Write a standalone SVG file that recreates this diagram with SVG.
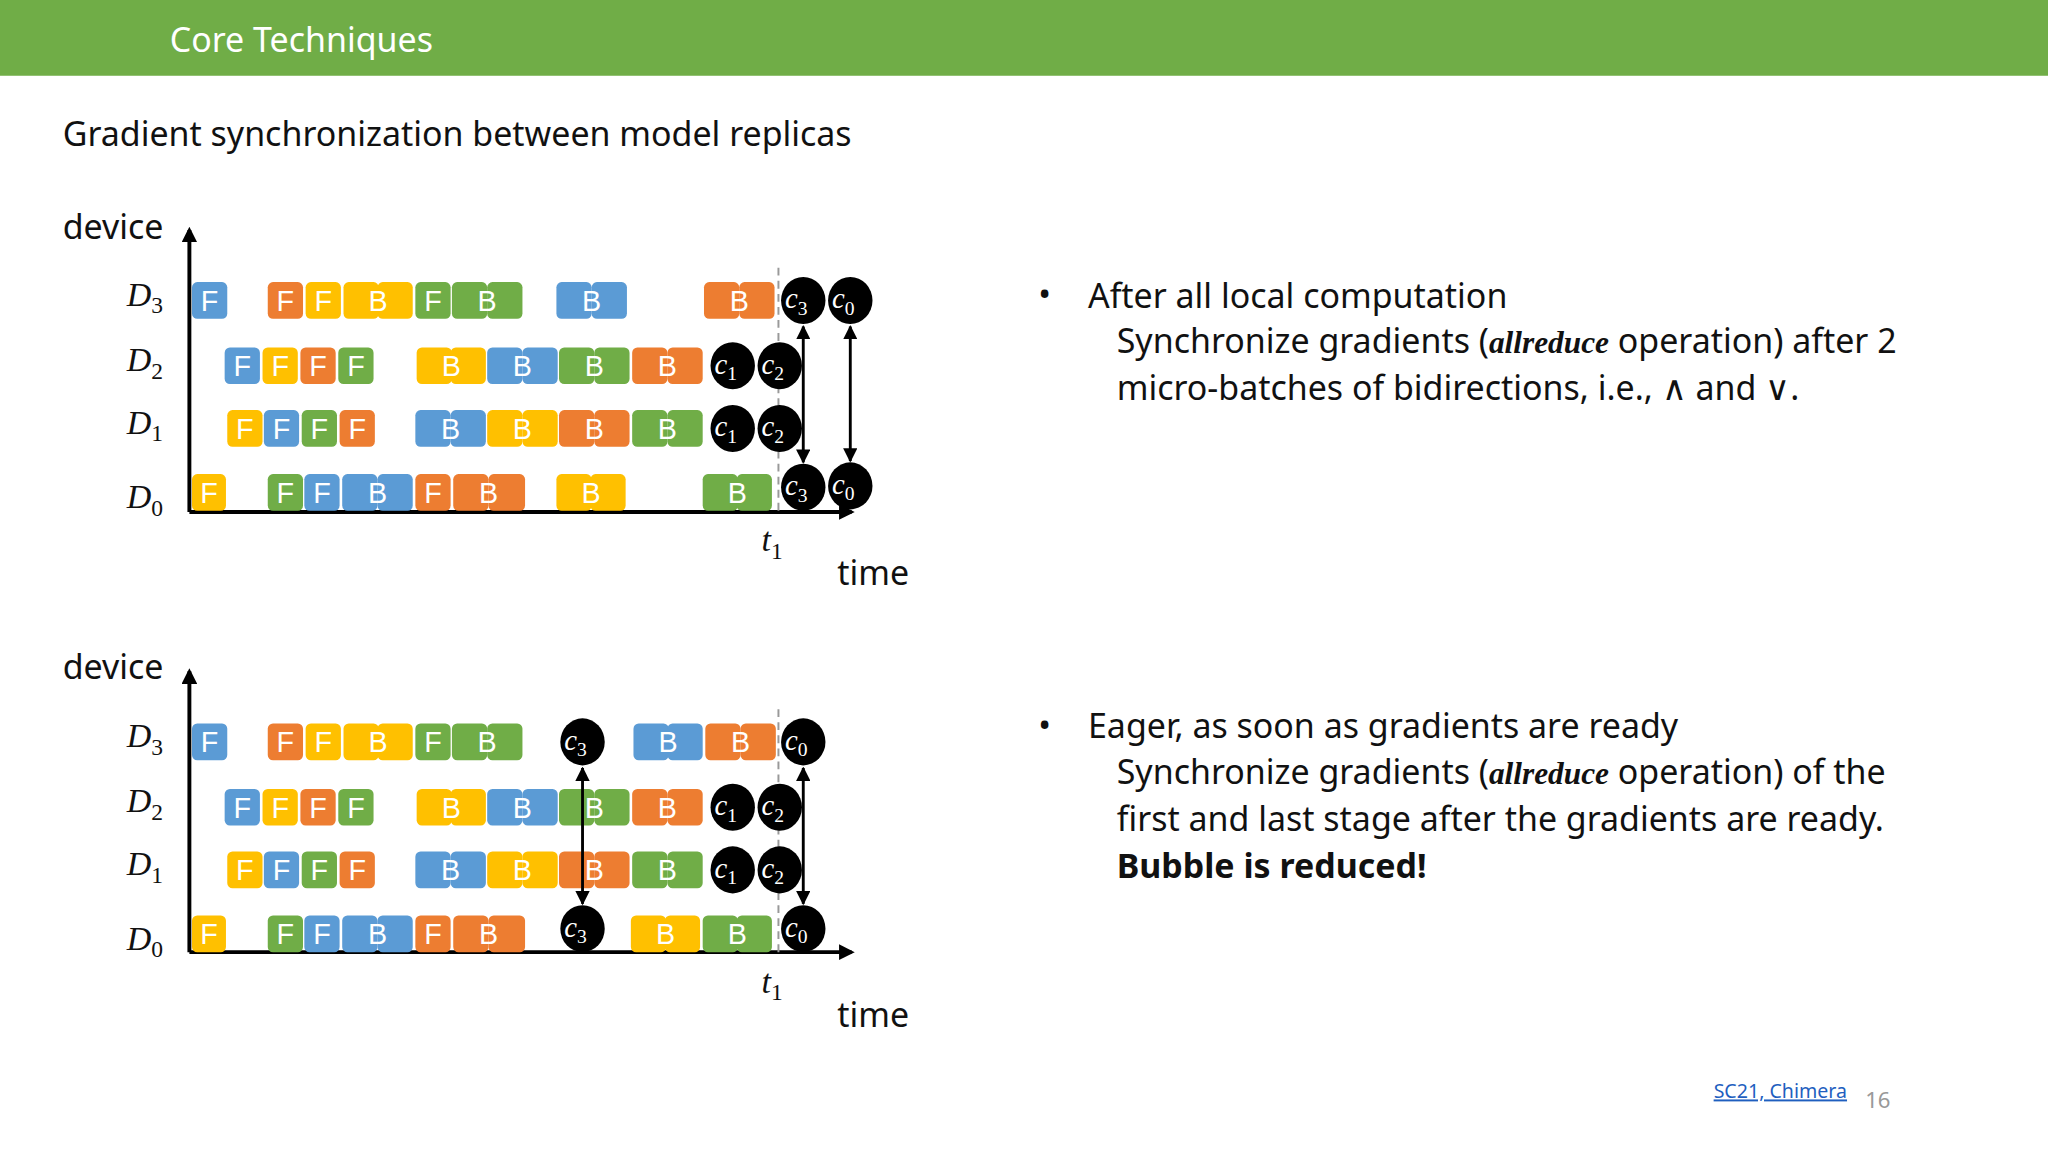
<svg xmlns="http://www.w3.org/2000/svg" width="2048" height="1152" viewBox="0 0 2048 1152">
<defs>
<style>
.s{font-family:"Noto Sans","Liberation Sans",sans-serif;fill:#111}
.blk{font-family:"Liberation Sans",sans-serif;font-size:22px;fill:#fff;text-anchor:middle}
.m{font-family:"Liberation Serif",serif;font-style:italic;fill:#111}
.cl{font-family:"Liberation Serif",serif;font-style:italic;fill:#fff;font-size:22px}
.b{fill:#5B9BD5}.o{fill:#ED7D31}.y{fill:#FFC000}.g{fill:#70AD47}
.ax{stroke:#000;stroke-width:3;fill:none}
.ar{stroke:#000;stroke-width:2.2;fill:none;marker-start:url(#h);marker-end:url(#h)}
.dash{stroke:#999;stroke-width:1.5;stroke-dasharray:6 4}
</style>
<marker id="a" viewBox="0 0 10 10" refX="8" refY="5" markerWidth="4" markerHeight="4" orient="auto"><path d="M0,0L10,5L0,10z" fill="#000"/></marker>
<marker id="h" viewBox="0 0 10 10" refX="9" refY="5" markerWidth="5" markerHeight="5" orient="auto-start-reverse"><path d="M0,0L10,5L0,10z" fill="#000"/></marker>
<g id="F"><rect x="0" y="-14" width="27" height="28" rx="4"/></g>
</defs>
<rect width="2048" height="1152" fill="#fff"/>
<g transform="scale(1.30612)">
<g id="header"><rect width="1568" height="58" fill="#70AD47"/>
<text x="130" y="40" class="s" font-size="26" style="fill:#fff">Core Techniques</text></g>
<text x="48" y="112" class="s" font-size="26">Gradient synchronization between model replicas</text>

<!-- chart 1 -->
<g id="chart1">
<g id="axes1">
<path class="ax" d="M145,392V176" marker-end="url(#a)"/>
<path class="ax" d="M145,392H652" marker-end="url(#a)"/>
<line class="dash" x1="596" y1="205" x2="596" y2="392"/>
<text x="48" y="183" class="s" font-size="26">device</text>
<text x="641" y="448" class="s" font-size="26">time</text>
<text x="583" y="422" class="m" font-size="26">t<tspan font-size="18" dy="6" font-style="normal">1</tspan></text>
<text x="97" y="234" class="m" font-size="26">D<tspan font-size="18" dy="6" font-style="normal">3</tspan></text>
<text x="97" y="284" class="m" font-size="26">D<tspan font-size="18" dy="6" font-style="normal">2</tspan></text>
<text x="97" y="332" class="m" font-size="26">D<tspan font-size="18" dy="6" font-style="normal">1</tspan></text>
<text x="97" y="389" class="m" font-size="26">D<tspan font-size="18" dy="6" font-style="normal">0</tspan></text>
</g>
<g id="r3a" transform="translate(0,230)">
<rect class="b" x="147" y="-14" width="27" height="28" rx="4"/><text class="blk" x="160.5" y="8">F</text>
<rect class="o" x="205" y="-14" width="27" height="28" rx="4"/><text class="blk" x="218.5" y="8">F</text>
<rect class="y" x="234" y="-14" width="27" height="28" rx="4"/><text class="blk" x="247.5" y="8">F</text>
<rect class="y" x="263" y="-14" width="27" height="28" rx="4"/><rect class="y" x="289" y="-14" width="27" height="28" rx="4"/><text class="blk" x="289.5" y="8">B</text>
<rect class="g" x="318" y="-14" width="27" height="28" rx="4"/><text class="blk" x="331.5" y="8">F</text>
<rect class="g" x="346" y="-14" width="27" height="28" rx="4"/><rect class="g" x="373" y="-14" width="27" height="28" rx="4"/><text class="blk" x="373" y="8">B</text>
<rect class="b" x="426" y="-14" width="27" height="28" rx="4"/><rect class="b" x="453" y="-14" width="27" height="28" rx="4"/><text class="blk" x="453" y="8">B</text>
<rect class="o" x="539" y="-14" width="27" height="28" rx="4"/><rect class="o" x="566" y="-14" width="27" height="28" rx="4"/><text class="blk" x="566" y="8">B</text>
<ellipse cx="615" cy="0" rx="17" ry="18"/><text class="cl" x="601" y="6">c<tspan font-size="15" dy="5" font-style="normal">3</tspan></text>
<ellipse cx="651" cy="0" rx="17" ry="18"/><text class="cl" x="637" y="6">c<tspan font-size="15" dy="5" font-style="normal">0</tspan></text>
</g>
<g id="r2a" transform="translate(0,280)">
<rect class="b" x="172" y="-14" width="27" height="28" rx="4"/><text class="blk" x="185.5" y="8">F</text>
<rect class="y" x="201" y="-14" width="27" height="28" rx="4"/><text class="blk" x="214.5" y="8">F</text>
<rect class="o" x="230" y="-14" width="27" height="28" rx="4"/><text class="blk" x="243.5" y="8">F</text>
<rect class="g" x="259" y="-14" width="27" height="28" rx="4"/><text class="blk" x="272.5" y="8">F</text>
<rect class="y" x="319" y="-14" width="27" height="28" rx="4"/><rect class="y" x="345" y="-14" width="27" height="28" rx="4"/><text class="blk" x="345.5" y="8">B</text>
<rect class="b" x="373" y="-14" width="27" height="28" rx="4"/><rect class="b" x="400" y="-14" width="27" height="28" rx="4"/><text class="blk" x="400" y="8">B</text>
<rect class="g" x="428" y="-14" width="27" height="28" rx="4"/><rect class="g" x="455" y="-14" width="27" height="28" rx="4"/><text class="blk" x="455" y="8">B</text>
<rect class="o" x="484" y="-14" width="27" height="28" rx="4"/><rect class="o" x="511" y="-14" width="27" height="28" rx="4"/><text class="blk" x="511" y="8">B</text>
<ellipse cx="561" cy="0" rx="17" ry="18"/><text class="cl" x="547" y="6">c<tspan font-size="15" dy="5" font-style="normal">1</tspan></text>
<ellipse cx="597" cy="0" rx="17" ry="18"/><text class="cl" x="583" y="6">c<tspan font-size="15" dy="5" font-style="normal">2</tspan></text>
</g>
<g id="r1a" transform="translate(0,328)">
<rect class="y" x="174" y="-14" width="27" height="28" rx="4"/><text class="blk" x="187.5" y="8">F</text>
<rect class="b" x="202" y="-14" width="27" height="28" rx="4"/><text class="blk" x="215.5" y="8">F</text>
<rect class="g" x="231" y="-14" width="27" height="28" rx="4"/><text class="blk" x="244.5" y="8">F</text>
<rect class="o" x="260" y="-14" width="27" height="28" rx="4"/><text class="blk" x="273.5" y="8">F</text>
<rect class="b" x="318" y="-14" width="27" height="28" rx="4"/><rect class="b" x="345" y="-14" width="27" height="28" rx="4"/><text class="blk" x="345" y="8">B</text>
<rect class="y" x="373" y="-14" width="27" height="28" rx="4"/><rect class="y" x="400" y="-14" width="27" height="28" rx="4"/><text class="blk" x="400" y="8">B</text>
<rect class="o" x="428" y="-14" width="27" height="28" rx="4"/><rect class="o" x="455" y="-14" width="27" height="28" rx="4"/><text class="blk" x="455" y="8">B</text>
<rect class="g" x="484" y="-14" width="27" height="28" rx="4"/><rect class="g" x="511" y="-14" width="27" height="28" rx="4"/><text class="blk" x="511" y="8">B</text>
<ellipse cx="561" cy="0" rx="17" ry="18"/><text class="cl" x="547" y="6">c<tspan font-size="15" dy="5" font-style="normal">1</tspan></text>
<ellipse cx="597" cy="0" rx="17" ry="18"/><text class="cl" x="583" y="6">c<tspan font-size="15" dy="5" font-style="normal">2</tspan></text>
</g>
<g id="r0a" transform="translate(0,377)">
<rect class="y" x="147" y="-14" width="26" height="28" rx="4"/><text class="blk" x="160" y="8">F</text>
<rect class="g" x="205" y="-14" width="27" height="28" rx="4"/><text class="blk" x="218.5" y="8">F</text>
<rect class="b" x="233" y="-14" width="27" height="28" rx="4"/><text class="blk" x="246.5" y="8">F</text>
<rect class="b" x="262" y="-14" width="27" height="28" rx="4"/><rect class="b" x="289" y="-14" width="27" height="28" rx="4"/><text class="blk" x="289" y="8">B</text>
<rect class="o" x="318" y="-14" width="27" height="28" rx="4"/><text class="blk" x="331.5" y="8">F</text>
<rect class="o" x="347" y="-14" width="27" height="28" rx="4"/><rect class="o" x="374" y="-14" width="28" height="28" rx="4"/><text class="blk" x="374" y="8">B</text>
<rect class="y" x="426" y="-14" width="27" height="28" rx="4"/><rect class="y" x="452" y="-14" width="27" height="28" rx="4"/><text class="blk" x="452.5" y="8">B</text>
<rect class="g" x="538" y="-14" width="27" height="28" rx="4"/><rect class="g" x="564" y="-14" width="27" height="28" rx="4"/><text class="blk" x="564.5" y="8">B</text>
<ellipse cx="615" cy="-4" rx="17" ry="18"/><text class="cl" x="601" y="2">c<tspan font-size="15" dy="5" font-style="normal">3</tspan></text>
<ellipse cx="651" cy="-5" rx="17" ry="18"/><text class="cl" x="637" y="1">c<tspan font-size="15" dy="5" font-style="normal">0</tspan></text>
</g>
<g id="conn1">
<line class="ar" x1="615" y1="250" x2="615" y2="354"/>
<line class="ar" x1="651" y1="250" x2="651" y2="353"/>
</g>
</g>

<!-- chart 2 -->
<g id="chart2">
<g id="axes2">
<path class="ax" d="M145,729V514" marker-end="url(#a)"/>
<path class="ax" d="M145,729H652" marker-end="url(#a)"/>
<line class="dash" x1="596" y1="543" x2="596" y2="729"/>
<text x="48" y="520" class="s" font-size="26">device</text>
<text x="641" y="786" class="s" font-size="26">time</text>
<text x="583" y="760" class="m" font-size="26">t<tspan font-size="18" dy="6" font-style="normal">1</tspan></text>
<text x="97" y="572" class="m" font-size="26">D<tspan font-size="18" dy="6" font-style="normal">3</tspan></text>
<text x="97" y="622" class="m" font-size="26">D<tspan font-size="18" dy="6" font-style="normal">2</tspan></text>
<text x="97" y="670" class="m" font-size="26">D<tspan font-size="18" dy="6" font-style="normal">1</tspan></text>
<text x="97" y="727" class="m" font-size="26">D<tspan font-size="18" dy="6" font-style="normal">0</tspan></text>
</g>
<g id="r3b" transform="translate(0,568)">
<rect class="b" x="147" y="-14" width="27" height="28" rx="4"/><text class="blk" x="160.5" y="8">F</text>
<rect class="o" x="205" y="-14" width="27" height="28" rx="4"/><text class="blk" x="218.5" y="8">F</text>
<rect class="y" x="234" y="-14" width="27" height="28" rx="4"/><text class="blk" x="247.5" y="8">F</text>
<rect class="y" x="263" y="-14" width="27" height="28" rx="4"/><rect class="y" x="289" y="-14" width="27" height="28" rx="4"/><text class="blk" x="289.5" y="8">B</text>
<rect class="g" x="318" y="-14" width="27" height="28" rx="4"/><text class="blk" x="331.5" y="8">F</text>
<rect class="g" x="346" y="-14" width="27" height="28" rx="4"/><rect class="g" x="373" y="-14" width="27" height="28" rx="4"/><text class="blk" x="373" y="8">B</text>
<ellipse cx="446" cy="0" rx="17" ry="18"/><text class="cl" x="432" y="6">c<tspan font-size="15" dy="5" font-style="normal">3</tspan></text>
<rect class="b" x="485" y="-14" width="27" height="28" rx="4"/><rect class="b" x="511" y="-14" width="27" height="28" rx="4"/><text class="blk" x="511.5" y="8">B</text>
<rect class="o" x="540" y="-14" width="27" height="28" rx="4"/><rect class="o" x="567" y="-14" width="27" height="28" rx="4"/><text class="blk" x="567" y="8">B</text>
<ellipse cx="615" cy="0" rx="17" ry="18"/><text class="cl" x="601" y="6">c<tspan font-size="15" dy="5" font-style="normal">0</tspan></text>
</g>
<g id="r2b" transform="translate(0,618)">
<rect class="b" x="172" y="-14" width="27" height="28" rx="4"/><text class="blk" x="185.5" y="8">F</text>
<rect class="y" x="201" y="-14" width="27" height="28" rx="4"/><text class="blk" x="214.5" y="8">F</text>
<rect class="o" x="230" y="-14" width="27" height="28" rx="4"/><text class="blk" x="243.5" y="8">F</text>
<rect class="g" x="259" y="-14" width="27" height="28" rx="4"/><text class="blk" x="272.5" y="8">F</text>
<rect class="y" x="319" y="-14" width="27" height="28" rx="4"/><rect class="y" x="345" y="-14" width="27" height="28" rx="4"/><text class="blk" x="345.5" y="8">B</text>
<rect class="b" x="373" y="-14" width="27" height="28" rx="4"/><rect class="b" x="400" y="-14" width="27" height="28" rx="4"/><text class="blk" x="400" y="8">B</text>
<rect class="g" x="428" y="-14" width="27" height="28" rx="4"/><rect class="g" x="455" y="-14" width="27" height="28" rx="4"/><text class="blk" x="455" y="8">B</text>
<rect class="o" x="484" y="-14" width="27" height="28" rx="4"/><rect class="o" x="511" y="-14" width="27" height="28" rx="4"/><text class="blk" x="511" y="8">B</text>
<ellipse cx="561" cy="0" rx="17" ry="18"/><text class="cl" x="547" y="6">c<tspan font-size="15" dy="5" font-style="normal">1</tspan></text>
<ellipse cx="597" cy="0" rx="17" ry="18"/><text class="cl" x="583" y="6">c<tspan font-size="15" dy="5" font-style="normal">2</tspan></text>
</g>
<g id="r1b" transform="translate(0,666)">
<rect class="y" x="174" y="-14" width="27" height="28" rx="4"/><text class="blk" x="187.5" y="8">F</text>
<rect class="b" x="202" y="-14" width="27" height="28" rx="4"/><text class="blk" x="215.5" y="8">F</text>
<rect class="g" x="231" y="-14" width="27" height="28" rx="4"/><text class="blk" x="244.5" y="8">F</text>
<rect class="o" x="260" y="-14" width="27" height="28" rx="4"/><text class="blk" x="273.5" y="8">F</text>
<rect class="b" x="318" y="-14" width="27" height="28" rx="4"/><rect class="b" x="345" y="-14" width="27" height="28" rx="4"/><text class="blk" x="345" y="8">B</text>
<rect class="y" x="373" y="-14" width="27" height="28" rx="4"/><rect class="y" x="400" y="-14" width="27" height="28" rx="4"/><text class="blk" x="400" y="8">B</text>
<rect class="o" x="428" y="-14" width="27" height="28" rx="4"/><rect class="o" x="455" y="-14" width="27" height="28" rx="4"/><text class="blk" x="455" y="8">B</text>
<rect class="g" x="484" y="-14" width="27" height="28" rx="4"/><rect class="g" x="511" y="-14" width="27" height="28" rx="4"/><text class="blk" x="511" y="8">B</text>
<ellipse cx="561" cy="0" rx="17" ry="18"/><text class="cl" x="547" y="6">c<tspan font-size="15" dy="5" font-style="normal">1</tspan></text>
<ellipse cx="597" cy="0" rx="17" ry="18"/><text class="cl" x="583" y="6">c<tspan font-size="15" dy="5" font-style="normal">2</tspan></text>
</g>
<g id="r0b" transform="translate(0,715)">
<rect class="y" x="147" y="-14" width="26" height="28" rx="4"/><text class="blk" x="160" y="8">F</text>
<rect class="g" x="205" y="-14" width="27" height="28" rx="4"/><text class="blk" x="218.5" y="8">F</text>
<rect class="b" x="233" y="-14" width="27" height="28" rx="4"/><text class="blk" x="246.5" y="8">F</text>
<rect class="b" x="262" y="-14" width="27" height="28" rx="4"/><rect class="b" x="289" y="-14" width="27" height="28" rx="4"/><text class="blk" x="289" y="8">B</text>
<rect class="o" x="318" y="-14" width="27" height="28" rx="4"/><text class="blk" x="331.5" y="8">F</text>
<rect class="o" x="347" y="-14" width="27" height="28" rx="4"/><rect class="o" x="374" y="-14" width="28" height="28" rx="4"/><text class="blk" x="374" y="8">B</text>
<ellipse cx="446" cy="-4" rx="17" ry="18"/><text class="cl" x="432" y="2">c<tspan font-size="15" dy="5" font-style="normal">3</tspan></text>
<rect class="y" x="483" y="-14" width="27" height="28" rx="4"/><rect class="y" x="509" y="-14" width="27" height="28" rx="4"/><text class="blk" x="509.5" y="8">B</text>
<rect class="g" x="538" y="-14" width="27" height="28" rx="4"/><rect class="g" x="564" y="-14" width="27" height="28" rx="4"/><text class="blk" x="564.5" y="8">B</text>
<ellipse cx="615" cy="-4" rx="17" ry="18"/><text class="cl" x="601" y="2">c<tspan font-size="15" dy="5" font-style="normal">0</tspan></text>
</g>
<g id="conn2">
<line class="ar" x1="446" y1="588" x2="446" y2="692"/>
<line class="ar" x1="615" y1="588" x2="615" y2="692"/>
</g>
</g>

<g id="text1" class="s" font-size="26">
<text x="795" y="234">•</text>
<text x="833" y="236">After all local computation</text>
<text x="855" y="270">Synchronize gradients (<tspan font-family="Liberation Serif,serif" font-style="italic" font-weight="bold" font-size="24">allreduce</tspan> operation) after 2</text>
<text x="855" y="306">micro-batches of bidirections, i.e., ∧ and ∨.</text>
</g>
<g id="text2" class="s" font-size="26">
<text x="795" y="564">•</text>
<text x="833" y="565">Eager, as soon as gradients are ready</text>
<text x="855" y="600">Synchronize gradients (<tspan font-family="Liberation Serif,serif" font-style="italic" font-weight="bold" font-size="24">allreduce</tspan> operation) of the</text>
<text x="855" y="636">first and last stage after the gradients are ready.</text>
<text x="855" y="672" font-weight="bold">Bubble is reduced!</text>
</g>
<text x="1312" y="841" font-family="Noto Sans,Liberation Sans,sans-serif" font-size="15" fill="#1F5FBF" text-decoration="underline">SC21, Chimera</text>
<text x="1428" y="848" font-family="Noto Sans,Liberation Sans,sans-serif" font-size="17" fill="#999">16</text>
</g>
</svg>
